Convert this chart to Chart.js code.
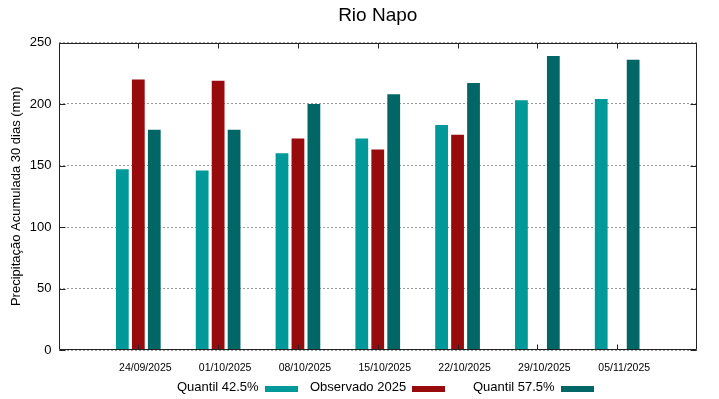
<!DOCTYPE html>
<html>
<head>
<meta charset="utf-8">
<script src="https://cdn.jsdelivr.net/npm/chart.js@4/dist/chart.umd.min.js"></script>
<style>
  html, body { margin: 0; padding: 0; background: #fff; }
  #wrap { width: 719px; height: 399px; }
</style>
</head>
<body>
<div id="wrap"><canvas id="c" width="719" height="399"></canvas></div>
<script>
const categories = ['24/09/2025', '01/10/2025', '08/10/2025', '15/10/2025', '22/10/2025', '29/10/2025', '05/11/2025'];
const quantil425 = [147, 146, 160, 172, 183, 203, 204];
const observado2025 = [220, 219, 172, 163, 175, null, null];
const quantil575 = [179, 179, 200, 208, 217, 239, 236];
const yTicks = [0, 50, 100, 150, 200, 250];
const seriesNames = ['Quantil 42.5%', 'Observado 2025', 'Quantil 57.5%'];
const seriesColors = ['#009999', '#970b0d', '#006666'];

const labels = [''].concat(categories, ['']);
const pad = arr => [null].concat(arr, [null]);

const FONT = "'Liberation Sans', Arial, sans-serif";
Chart.defaults.font.family = FONT;
Chart.defaults.color = '#000';

const framePlugin = {
  id: 'frame',
  afterDraw(chart) {
    const {ctx, chartArea: a, scales} = chart;
    ctx.save();
    ctx.strokeStyle = '#222';
    ctx.lineWidth = 1;
    const L = Math.round(a.left) + 0.5, R = Math.round(a.right) - 0.5;
    const T = Math.round(a.top) + 0.5, B = Math.round(a.bottom) - 0.5;
    ctx.beginPath();
    ctx.rect(L, T, R - L, B - T);
    yTicks.forEach(v => {
      const y = Math.round(scales.y.getPixelForValue(v)) + 0.5;
      ctx.moveTo(L, y); ctx.lineTo(L + 6, y);
      ctx.moveTo(R, y); ctx.lineTo(R - 6, y);
    });
    categories.forEach((c, i) => {
      const x = Math.round(scales.x.getPixelForValue(i + 1)) + 0.5;
      ctx.moveTo(x, T); ctx.lineTo(x, T + 5);
      ctx.moveTo(x, B); ctx.lineTo(x, B - 5);
    });
    ctx.stroke();
    ctx.restore();
  }
};

// gnuplot-style key: text followed by a colour sample
const keyPlugin = {
  id: 'gkey',
  afterDraw(chart) {
    const {ctx} = chart;
    const starts = [177, 310, 473];
    const yText = 387.5;
    ctx.save();
    ctx.font = '13px ' + FONT;
    ctx.textBaseline = 'middle';
    ctx.textAlign = 'left';
    chart.data.datasets.forEach((ds, i) => {
      const x = starts[i];
      ctx.fillStyle = '#000';
      ctx.fillText(ds.label, x, yText);
      const w = ctx.measureText(ds.label).width;
      ctx.fillStyle = ds.backgroundColor;
      ctx.fillRect(Math.round(x + w + 6), 386, 33, 6);
    });
    ctx.restore();
  }
};

new Chart(document.getElementById('c'), {
  type: 'bar',
  data: {
    labels: labels,
    datasets: seriesNames.map((n, i) => ({
      label: n,
      data: pad([quantil425, observado2025, quantil575][i]),
      backgroundColor: seriesColors[i],
      borderWidth: 0
    }))
  },
  options: {
    responsive: false,
    animation: false,
    devicePixelRatio: 1,
    layout: { padding: { left: 0, right: 22, top: 0, bottom: 19 } },
    datasets: { bar: { categoryPercentage: 0.6, barPercentage: 0.8 } },
    plugins: {
      title: {
        display: true,
        text: 'Rio Napo',
        fullSize: false,
        font: { size: 19, weight: 'normal', family: FONT },
        color: '#000',
        padding: { top: 4, bottom: 15.7 }
      },
      legend: { display: false },
      tooltip: { enabled: false }
    },
    scales: {
      x: {
        offset: false,
        grid: { display: false, drawTicks: false },
        border: { display: false },
        ticks: { font: { size: 10.5, family: FONT }, padding: 12, labelOffset: 7, maxRotation: 0, autoSkip: false },
        afterFit(s) { s.height = 30; }
      },
      y: {
        min: 0, max: 250,
        afterBuildTicks(s) { s.ticks = yTicks.map(v => ({ value: v })); },
        grid: { color: '#9a9a9a', lineWidth: 1, drawTicks: false },
        border: { display: false, dash: [2, 2] },
        ticks: { font: { size: 13, family: FONT }, padding: 7 },
        title: {
          display: true,
          text: 'Precipitação Acumulada 30 dias (mm)',
          font: { size: 13, family: FONT },
          padding: { top: 9, bottom: 0 }
        },
        afterFit(s) { s.width = 58.5; }
      }
    }
  },
  plugins: [framePlugin, keyPlugin]
});
</script>
</body>
</html>
